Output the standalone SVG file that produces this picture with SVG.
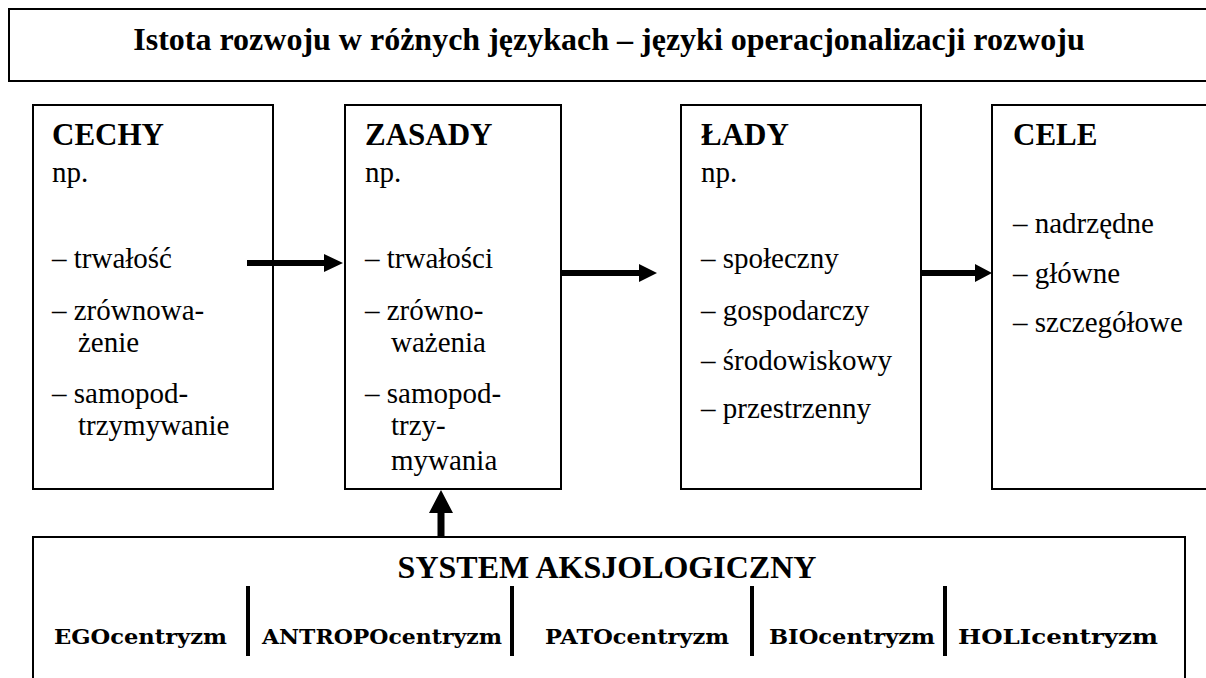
<svg xmlns="http://www.w3.org/2000/svg" width="1206" height="678" viewBox="0 0 1206 678">
<style>
.box{fill:#fff;stroke:#000;stroke-width:2}
.t{font-family:"Liberation Serif","Times New Roman",serif;fill:#000}
.h{font-size:31px;font-weight:bold}
.b{font-size:29px}
.title{font-size:32px;font-weight:bold}
.c{font-family:"DejaVu Serif",serif;font-weight:bold;font-size:21px;fill:#000}
.sep{stroke:#000;stroke-width:4}
.arr{fill:#000}
</style>
<rect width="1206" height="678" fill="#fff"/>
<g id="title">
<rect class="box" x="9" y="9" width="1215" height="72"/>
<text class="t title" x="609" y="50" text-anchor="middle">Istota rozwoju w różnych językach – języki operacjonalizacji rozwoju</text>
</g>
<g id="cechy">
<rect class="box" x="33" y="105" width="240" height="384"/>
<text class="t h" x="52" y="145">CECHY</text>
<text class="t b" x="52" y="182">np.</text>
<text class="t b" x="52" y="268">– trwałość</text>
<text class="t b" x="52" y="320">– zrównowa-</text>
<text class="t b" x="78" y="352">żenie</text>
<text class="t b" x="52" y="403">– samopod-</text>
<text class="t b" x="78" y="435">trzymywanie</text>
</g>
<g id="zasady">
<rect class="box" x="345" y="105" width="216" height="384"/>
<text class="t h" x="365" y="145">ZASADY</text>
<text class="t b" x="365" y="182">np.</text>
<text class="t b" x="365" y="268">– trwałości</text>
<text class="t b" x="365" y="320">– zrówno-</text>
<text class="t b" x="391" y="352">ważenia</text>
<text class="t b" x="365" y="403">– samopod-</text>
<text class="t b" x="391" y="435">trzy-</text>
<text class="t b" x="391" y="470">mywania</text>
</g>
<g id="lady">
<rect class="box" x="681" y="105" width="240" height="384"/>
<text class="t h" x="701" y="145">ŁADY</text>
<text class="t b" x="701" y="182">np.</text>
<text class="t b" x="701" y="268">– społeczny</text>
<text class="t b" x="701" y="320">– gospodarczy</text>
<text class="t b" x="701" y="370">– środowiskowy</text>
<text class="t b" x="701" y="418">– przestrzenny</text>
</g>
<g id="cele">
<rect class="box" x="992" y="105" width="232" height="384"/>
<text class="t h" x="1013" y="145">CELE</text>
<text class="t b" x="1013" y="233">– nadrzędne</text>
<text class="t b" x="1013" y="283">– główne</text>
<text class="t b" x="1013" y="332">– szczegółowe</text>
</g>
<g id="system">
<rect class="box" x="33" y="537" width="1152" height="160"/>
<text class="t title" x="607" y="578" text-anchor="middle">SYSTEM AKSJOLOGICZNY</text>
<line class="sep" x1="248" y1="586" x2="248" y2="656"/>
<line class="sep" x1="512" y1="586" x2="512" y2="656"/>
<line class="sep" x1="752" y1="586" x2="752" y2="656"/>
<line class="sep" x1="945" y1="586" x2="945" y2="656"/>
<text class="c" x="54" y="644" textLength="173" lengthAdjust="spacingAndGlyphs">EGOcentryzm</text>
<text class="c" x="262" y="644" textLength="240" lengthAdjust="spacingAndGlyphs">ANTROPOcentryzm</text>
<text class="c" x="545" y="644" textLength="184" lengthAdjust="spacingAndGlyphs">PATOcentryzm</text>
<text class="c" x="769" y="644" textLength="166" lengthAdjust="spacingAndGlyphs">BIOcentryzm</text>
<text class="c" x="958" y="644" textLength="200" lengthAdjust="spacingAndGlyphs">HOLIcentryzm</text>
</g>
<g id="connectors">
<path class="arr" d="M247,260 H324 V254 L343,263 L324,272 V266 H247 Z"/>
<path class="arr" d="M561,270 H639 V264 L657,273 L639,282 V276 H561 Z"/>
<path class="arr" d="M921,270 H975 V264 L992,273 L975,282 V276 H921 Z"/>
<path class="arr" d="M437.5,537 V513 H429 L441,490 L453,513 H444.5 V537 Z"/>
</g>
</svg>
